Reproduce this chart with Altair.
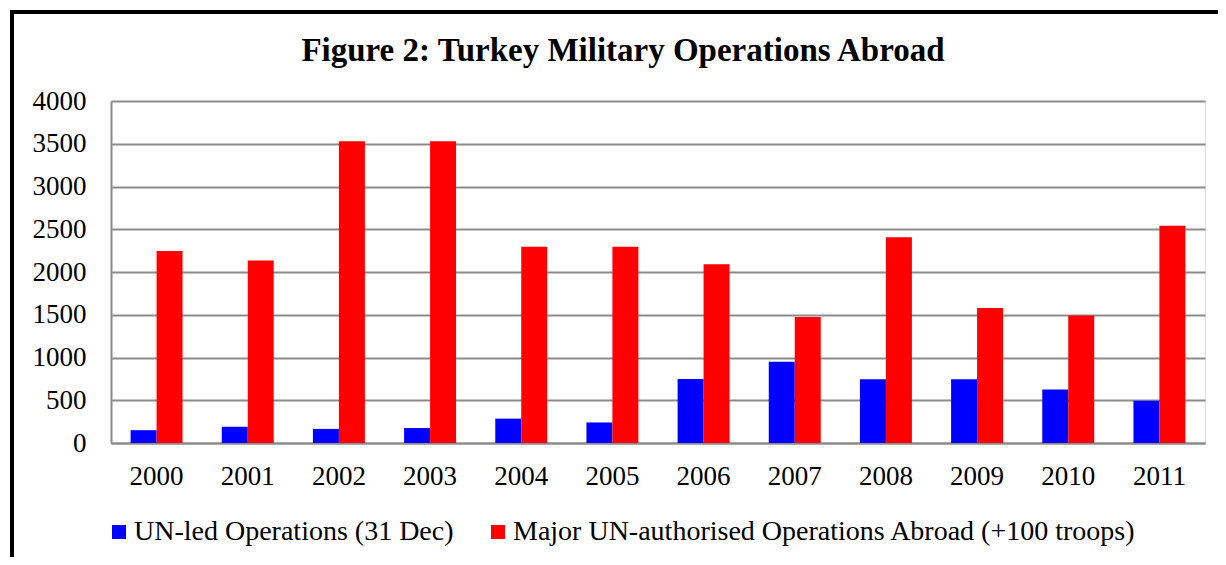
import altair as alt
import pandas as pd

years = ["2000", "2001", "2002", "2003", "2004", "2005", "2006", "2007", "2008", "2009", "2010", "2011"]
un_led = [150, 190, 165, 175, 285, 240, 750, 950, 745, 745, 625, 495]
major = [2245, 2135, 3530, 3530, 2295, 2295, 2090, 1475, 2405, 1580, 1490, 2540]
series = ["UN-led Operations (31 Dec)", "Major UN-authorised Operations Abroad (+100 troops)"]
colors = ["#0000FF", "#FF0000"]
title_text = "Figure 2: Turkey Military Operations Abroad"

rows = []
for i, y in enumerate(years):
    rows.append({"year": y, "series": series[0], "value": un_led[i], "k": 0})
    rows.append({"year": y, "series": series[1], "value": major[i], "k": 1})
df = pd.DataFrame(rows)

FONT = "Liberation Serif"
W, H = 1094, 342

bars = alt.Chart(df).mark_bar().encode(
    x=alt.X("year:N", sort=years, title=None,
            scale=alt.Scale(paddingInner=0.43, paddingOuter=0.215),
            axis=alt.Axis(labelAngle=0, labelFont=FONT, labelFontSize=27, labelColor="black",
                          labelPadding=20, ticks=False, domainColor="#8c8c8c", domainWidth=2,
                          grid=False)),
    xOffset=alt.XOffset("series:N", sort=series, scale=alt.Scale(paddingInner=0, paddingOuter=0)),
    y=alt.Y("value:Q", title=None,
            scale=alt.Scale(domain=[0, 4000], nice=False),
            axis=alt.Axis(values=list(range(0, 4001, 500)), format="d", labelFont=FONT,
                          labelFontSize=27, labelColor="black", labelPadding=25, ticks=False,
                          domainColor="#8c8c8c", domainWidth=2,
                          gridColor="#8c8c8c", gridWidth=2, gridOpacity=1)),
    color=alt.Color("series:N", sort=series,
                    scale=alt.Scale(domain=series, range=colors),
                    legend=alt.Legend(title=None, orient="none", direction="horizontal",
                                      legendX=-6, legendY=417,
                                      symbolType="square", symbolSize=196, symbolStrokeWidth=0,
                                      symbolOpacity=1,
                                      labelFont=FONT, labelFontSize=28, labelColor="black",
                                      labelOffset=1, columnPadding=30, labelLimit=1000)),
    order=alt.Order("k:Q"),
)

title = alt.Chart(pd.DataFrame({"t": [title_text]})).mark_text(
    font=FONT, fontSize=33, fontWeight="bold", color="black", align="center", baseline="alphabetic"
).encode(text="t:N", x=alt.value(512), y=alt.value(-40))

frame_left = alt.Chart(df).mark_rule(color="black", strokeWidth=4).encode(
    x=alt.value(-99), y=alt.value(-91), y2=alt.value(470)
)
frame_top = alt.Chart(df).mark_rule(color="black", strokeWidth=3).encode(
    x=alt.value(-101), x2=alt.value(1120), y=alt.value(-89)
)

chart = alt.layer(bars, title, frame_left, frame_top).properties(
    width=W, height=H,
    autosize=alt.AutoSizeParams(type="none"),
    padding={"left": 103, "top": 93, "right": 13, "bottom": 114},
).configure_view(stroke=None).configure(background="white")

chart.save("out.html", embed_options={"renderer": "svg", "actions": False})
